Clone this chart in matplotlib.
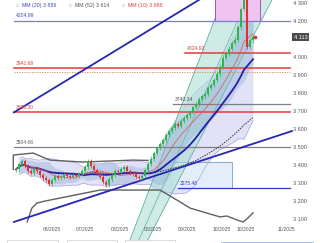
import matplotlib
matplotlib.use("Agg")
import matplotlib.pyplot as plt
import numpy as np
import pandas as pd

plt.rcParams['font.family'] = ['Liberation Sans', 'DejaVu Sans']

# cours de clôture (une bougie par séance, index 0..79)
closes = [3380, 3410, 3425, 3400, 3370, 3360, 3385, 3370, 3350, 3330,
          3320, 3300, 3320, 3345, 3335, 3340, 3355, 3345, 3340, 3350,
          3345, 3355, 3370, 3395, 3425, 3400, 3375, 3360, 3340, 3310,
          3295, 3325, 3350, 3370, 3365, 3380, 3395, 3370, 3360, 3355,
          3340, 3330, 3345, 3375, 3410, 3440, 3470, 3500, 3520, 3545,
          3570, 3595, 3610, 3630, 3620, 3650, 3665, 3680, 3700, 3725,
          3745, 3770, 3785, 3800, 3830, 3850, 3875, 3910, 3950, 4000,
          4020, 4050, 4080, 4100, 4170, 4270, 4350, 4060, 4095, 4113]

# niveaux horizontaux
level_values = [4204.99, 3941.68, 3696.30, 3504.66, 4024.92, 3740.34, 3275.48]
level_labels = ["4204.99", "3941.68", "3696.30", "3504.66", "4024.92", "3740.34", "3275.48"]
level_start = [-0.7, -0.7, -0.7, -0.7, 56.3, 52.3, 54.0]
level_colors = ['#7b7bd0', '#e84848', '#e84848', '#808080', '#e84848', '#808080', '#2c3cc0']
level_text = ['#4848a8', '#e04040', '#e04040', '#606060', '#e04040', '#505050', '#3040c0']
dotted_level = 3920

# lignes de tendance (index, cours)
trend1_x = [-0.7, 61.0]
trend1_y = [3696.3, 4320]
trend2_x = [-0.7, 92.0]
trend2_y = [3089, 3593]

# canal vert
chan_left_x = [37.3, 68.7]
chan_right_x = [43.0, 85.3]
chan_y = [2960, 4319]

# courbes grises
gray_low_x = [3.7, 5.3, 7.0, 9.7, 28, 48, 54.7, 58, 64.7, 68, 70.3, 73.7, 75.7, 77.3, 79]
gray_low_y = [3089, 3166, 3194, 3205, 3266, 3266, 3200, 3166, 3133, 3117, 3122, 3100, 3089, 3111, 3139]
gray_up_x = [-0.9, -0.9, 5.7, 11.3, 22.3, 39, 44]
gray_up_y = [3380, 3460, 3471, 3432, 3421, 3432, 3430]

# rectangles
pink_box = (66.3, 81.3, 4204.99, 4330)
blue_box = (52.3, 72.0, 3275.48, 3421)

# 4 100 est masqué par l'étiquette du dernier cours
y_ticks = [4300, 4200, 4000, 3900, 3800, 3700, 3600, 3500, 3400, 3300, 3200, 3100]
month_labels = ["06/2025", "07/2025", "08/2025", "08/2025", "09/2025", "10/2025", "10/2025", "11/2025"]
month_pos = [12, 23, 34.7, 45.7, 57, 68.7, 76.7, 90]

legend_names = ["MM (20) 3 886", "MM (52) 3 614", "MM (10) 3 988"]
legend_colors = ['#3a48c0', '#555555', '#e04040']
last_price = "4 113"

# --- calculs
s = pd.Series(closes, dtype=float)
idx = np.arange(len(closes))
opens = s.shift(1).fillna(s.iloc[0]).values
mm10 = s.rolling(10, min_periods=1).mean()
mm20 = s.rolling(20, min_periods=1).mean()
mm52 = s.rolling(52, min_periods=1).mean()
sd20 = s.rolling(20, min_periods=2).std()
sd10 = s.rolling(10, min_periods=2).std()

fig = plt.figure(figsize=(3.2, 2.43), dpi=100)
ax = fig.add_axes([0, 0, 1, 1])
ax.set_xlim(-16 / 3, 304 / 3)
ax.set_ylim(2972.4, 4319.4)
ax.axis('off')

# bandes de Bollinger (fond lavande)
ax.fill_between(idx, mm20 - 2 * sd20, mm20 + 2 * sd20, color='#dcdcf6', alpha=0.85, lw=0, zorder=1)
ax.plot(idx, mm20 + 2 * sd20, color='#a8a8e0', lw=0.5, zorder=1.2)
ax.plot(idx, mm20 - 2 * sd20, color='#a8a8e0', lw=0.5, zorder=1.2)

# rectangle bleu clair
bx0, bx1, by0, by1 = blue_box
ax.fill_between([bx0, bx1], by0, by1, color='#e4eef9', zorder=1.1, lw=0)
ax.plot([bx0, bx1, bx1], [by1, by1, by0], color='#7a9cc8', lw=0.6, zorder=1.3)

# canal vert
ax.fill_betweenx(chan_y, chan_left_x, chan_right_x, color='#a8dcd2', alpha=0.55, lw=0, zorder=1.5)
ax.plot(chan_left_x, chan_y, color='#60b0a0', lw=0.6, zorder=1.6)
ax.plot(chan_right_x, chan_y, color='#60b0a0', lw=0.6, zorder=1.6)
ax.plot([(a + b) / 2 for a, b in zip(chan_left_x, chan_right_x)], chan_y, color='#60b0a0', lw=0.5, zorder=1.6)

# bande interne bleutée
ax.fill_between(idx, mm10 - 1.6 * sd10, mm10 + 1.6 * sd10, color='#8fb0d6', alpha=0.4, lw=0, zorder=1.7)

# rectangle rose
px0, px1, py0, py1 = pink_box
ax.fill_between([px0, px1], py0, py1, color='#f0c4f0', zorder=1.8, lw=0)
ax.plot([px0, px0, px1, px1], [py1, py0, py0, py1], color='#b050c8', lw=0.7, zorder=1.9)

# niveaux horizontaux
for val, x0, col in zip(level_values, level_start, level_colors):
    lw = 1.2 if col == '#e84848' else 0.9
    ax.plot([x0, 91.3], [val, val], color=col, lw=lw, zorder=2)
for val, x0, lab, col in zip(level_values, level_start, level_labels, level_text):
    ax.text(x0 + 0.6, val + 12, lab, fontsize=3.6, color=col, va='bottom', ha='left', zorder=6)
ax.plot([-0.7, 91.3], [dotted_level, dotted_level], color='#c09050', lw=0.6, ls=(0, (1.5, 1.5)), zorder=2)

# courbes grises
ax.plot(gray_low_x, gray_low_y, color='#606060', lw=1.0, zorder=2.5)
ax.plot(gray_up_x, gray_up_y, color='#606060', lw=1.0, zorder=2.5)

# moyennes mobiles
ax.plot(idx, mm52, color='#333333', lw=0.7, ls=(0, (1.5, 1.2)), zorder=3)
ax.plot(idx, mm20, color='#2020a8', lw=1.3, zorder=3)
ax.plot(idx, mm10, color='#e05050', lw=0.5, zorder=3.1)

# lignes de tendance
ax.plot(trend1_x, trend1_y, color='#2626b4', lw=1.3, zorder=3.5)
ax.plot(trend2_x, trend2_y, color='#2626b4', lw=1.3, zorder=3.5)

# bougies
up = np.array(closes) >= opens
cols = np.where(up, '#2ab84a', '#e03030')
lo = np.minimum(opens, closes)
hi = np.maximum(opens, closes)
ax.vlines(idx, lo - 12, hi + 12, colors=cols, lw=0.5, zorder=4)
ax.bar(idx, np.maximum(hi - lo, 3), bottom=lo, width=0.7, color=cols, lw=0, zorder=4.1)
ax.plot(idx[-1] + 0.6, closes[-1], 'o', ms=1.6, color='#e03030', zorder=5)

# axe des cours (texte à droite)
for t in y_ticks:
    ax.text(293 / 320, t, f"{t // 1000} {t % 1000:03d}", transform=ax.get_yaxis_transform(),
            fontsize=4, color='#555555', va='center', ha='left')
ax.text(294 / 320, closes[-1], last_price, transform=ax.get_yaxis_transform(), fontsize=4,
        color='white', va='center', ha='left',
        bbox=dict(boxstyle='square,pad=0.3', fc='#4a4a4a', ec='none'))

# axe des dates
for pos, lab in zip(month_pos, month_labels):
    ax.text(pos, 1 - 229 / 243, lab, transform=ax.get_xaxis_transform(), fontsize=3.6,
            color='#555555', ha='center', va='center')

# légende
lx = [17, 70, 123]
for x, name, col in zip(lx, legend_names, legend_colors):
    fig.text(x / 320, 1 - 5.5 / 243, "○", fontsize=3.5, color='#999999', va='center', ha='center')
    fig.text((x + 5) / 320, 1 - 5.5 / 243, name, fontsize=3.8, color=col, va='center', ha='left')

# boutons du bas
for x0, w in [(7, 51), (67, 50), (125, 50)]:
    fig.patches.append(plt.Rectangle((x0 / 320, -0.01), w / 320, 5.5 / 243, transform=fig.transFigure,
                                     fc='white', ec='#d0d0d0', lw=0.5))
fig.patches.append(plt.Rectangle((221 / 320, -0.02), 92 / 320, 6 / 243, transform=fig.transFigure,
                                 fc='#eaf2fc', ec='#90b8e8', lw=0.6))

fig.savefig("out.png", dpi=100)
